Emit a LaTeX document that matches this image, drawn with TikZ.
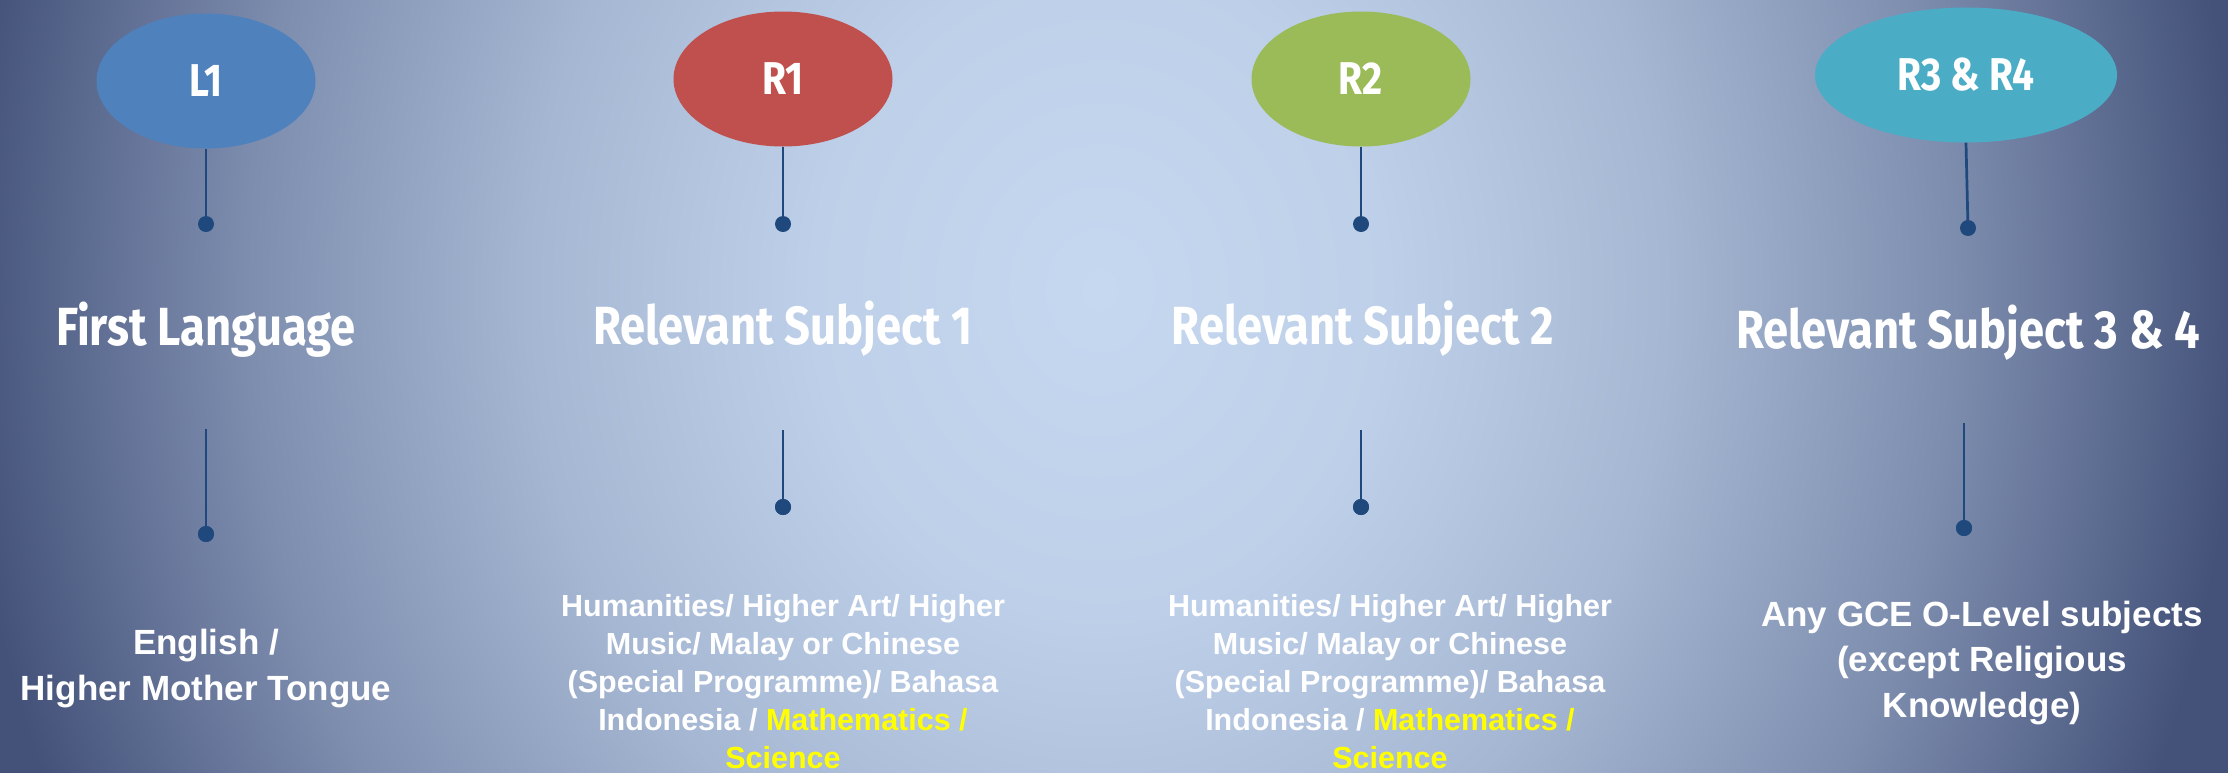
\documentclass[tikz,border=0pt]{standalone}
\usepackage{fontspec}
\setmainfont{Liberation Sans}
\newfontfamily\headfont[FakeStretch=0.845]{Fira Sans}
\usetikzlibrary{shapes.geometric}
\definecolor{bgin}{RGB}{198,216,240}
\definecolor{bgout}{RGB}{68,82,122}
\colorlet{bgmA}{bgout!6!bgin}
\colorlet{bgmB}{bgout!25!bgin}
\colorlet{bgmC}{bgout!56!bgin}
\definecolor{lineblue}{RGB}{31,73,125}
\definecolor{cL}{RGB}{79,129,189}
\definecolor{cR}{RGB}{192,80,77}
\definecolor{cG}{RGB}{155,187,89}
\definecolor{cT}{RGB}{75,172,198}
\definecolor{hiyel}{RGB}{255,255,0}
\pgfdeclareradialshading{bgshade}{\pgfpoint{0bp}{0bp}}{color(0bp)=(bgin); color(6.25bp)=(bgmA); color(12.5bp)=(bgmB); color(18.75bp)=(bgmC); color(25bp)=(bgout); color(50bp)=(bgout)}
\tikzset{
  bubble/.style={ellipse, minimum width=219pt, minimum height=135pt, inner sep=0pt, text=white,
    font=\headfont\bfseries\fontsize{46}{46}\selectfont},
  headline/.style={anchor=base, text=white, inner sep=0pt,
    font=\headfont\bfseries\fontsize{53.7}{60}\selectfont},
  conn/.style={draw=lineblue, line width=2.7pt},
  knob/.style={circle, fill=lineblue, minimum size=16pt, inner sep=0pt},
  bodysmall/.style={anchor=base, align=center, text=white, inner sep=0pt,
    font=\bfseries\fontsize{30.5}{38}\selectfont},
  bodylarge/.style={anchor=base, align=center, text=white, inner sep=0pt,
    font=\bfseries\fontsize{35}{45.5}\selectfont}
}
\begin{document}
\begin{tikzpicture}[x=1pt, y=-1pt]
\useasboundingbox (0,0) rectangle (2228,772);
\begin{scope}
\clip (0,0) rectangle (2228,772);
\shade[shading=bgshade] (-40,-1010) rectangle (2240,1590);

% ellipses
\node[bubble, fill=cL] (L1) at (206,81) {L1};
\node[bubble, fill=cR] (R1) at (783,79) {R1};
\node[bubble, fill=cG] (R2) at (1361,79) {R2};
\node[bubble, fill=cT, minimum width=302pt] (R3) at (1966,75) {R3 \& R4};

% upper knobs
\node[knob] (kL1) at (206,224) {};
\node[knob] (kR1) at (783,224) {};
\node[knob] (kR2) at (1361,224) {};
\node[knob] (kR3) at (1968,228) {};
\draw[conn] (L1.south) -- (kL1.center);
\draw[conn] (R1.south) -- (kR1.center);
\draw[conn] (R2.south) -- (kR2.center);
\draw[conn] (R3.south) -- (kR3.center);

% titles
\node[headline] (tL1) at (206,345) {First Language};
\node[headline] (tR1) at (783,344) {Relevant Subject 1};
\node[headline] (tR2) at (1363,344) {Relevant Subject 2};
\node[headline] (tR3) at (1968,348) {Relevant Subject 3 \& 4};

% lower connectors
\coordinate (sL1) at (206,429);
\coordinate (sR1) at (783,430);
\coordinate (sR2) at (1361,430);
\coordinate (sR3) at (1964,423);
\node[knob] (bL1) at (206,534) {};
\node[knob] (bR1) at (783,507) {};
\node[knob] (bR2) at (1361,507) {};
\node[knob] (bR3) at (1964,528) {};
\draw[conn] (sL1) -- (bL1.center);
\draw[conn] (sR1) -- (bR1.center);
\draw[conn] (sR2) -- (bR2.center);
\draw[conn] (sR3) -- (bR3.center);
\node[knob] at (bL1) {};
\node[knob] at (bR1) {};
\node[knob] at (bR2) {};
\node[knob] at (bR3) {};

% body texts (anchored at the baseline of their last line)
\node[bodylarge] (xL1) at (206,700) {English /\\Higher Mother Tongue};
\node[bodysmall] (xR1) at (783,768) {Humanities/ Higher Art/ Higher\\Music/ Malay or Chinese\\(Special Programme)/ Bahasa\\Indonesia / \textcolor{hiyel}{Mathematics /}\\\textcolor{hiyel}{Science}};
\node[bodysmall] (xR2) at (1390,768) {Humanities/ Higher Art/ Higher\\Music/ Malay or Chinese\\(Special Programme)/ Bahasa\\Indonesia / \textcolor{hiyel}{Mathematics /}\\\textcolor{hiyel}{Science}};
\node[bodylarge] (xR3) at (1982,717) {Any GCE O-Level subjects\\(except Religious\\Knowledge)};
\end{scope}
\end{tikzpicture}
\end{document}
